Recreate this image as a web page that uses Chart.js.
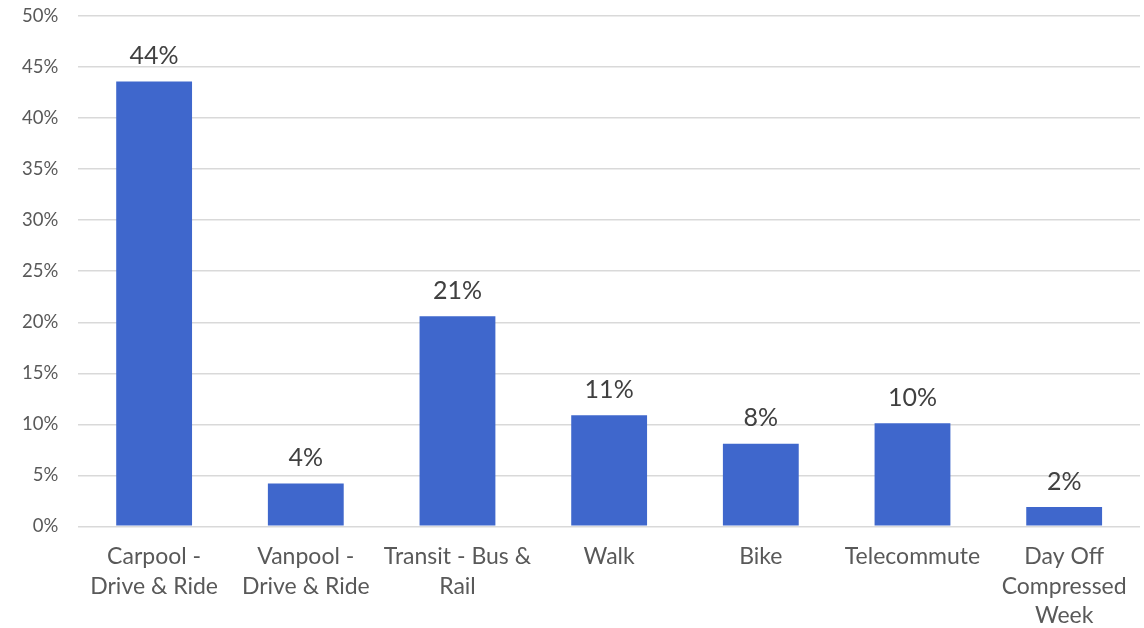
<!DOCTYPE html>
<html>
<head>
<meta charset="utf-8">
<script src="https://cdn.jsdelivr.net/npm/chart.js@4"></script>
<style>
  html, body { margin: 0; padding: 0; background: #fff; overflow: hidden; }
  #wrap { width: 1144px; height: 643px; margin-top: -15px; }
</style>
</head>
<body>
<div id="wrap"><canvas id="chart"></canvas></div>
<script>
const categories = [
    ['Carpool -', 'Drive & Ride'],
    ['Vanpool -', 'Drive & Ride'],
    ['Transit - Bus &', 'Rail'],
    'Walk',
    'Bike',
    'Telecommute',
    ['Day Off', 'Compressed', 'Week']
];
const shares = [43.6, 4.2, 20.6, 10.9, 8.1, 10.1, 1.9];
const shareLabels = ['44%', '4%', '21%', '11%', '8%', '10%', '2%'];

const FONT = "Lato, 'Open Sans', sans-serif";

// value labels on top of each bar
const topLabels = {
    id: 'topLabels',
    afterDatasetsDraw(chart) {
        const ctx = chart.ctx;
        const meta = chart.getDatasetMeta(0);
        ctx.save();
        ctx.font = '25px ' + FONT;
        ctx.fillStyle = '#404040';
        ctx.textAlign = 'center';
        ctx.textBaseline = 'bottom';
        meta.data.forEach((bar, i) => {
            ctx.fillText(shareLabels[i], bar.x, bar.y - 13);
        });
        ctx.restore();
    }
};

const ctx = document.getElementById('chart').getContext('2d');

new Chart(ctx, {
    type: 'bar',
    data: {
        labels: categories,
        datasets: [{
            data: shares,
            backgroundColor: (c) => {
                const bar = c.element;
                if (!bar || bar.width === undefined) return '#3f67cc';
                const g = c.chart.ctx.createLinearGradient(bar.x - bar.width / 2, 0, bar.x + bar.width / 2, 0);
                g.addColorStop(0, '#3860c6');
                g.addColorStop(0.5, '#4a70d2');
                g.addColorStop(1, '#3860c6');
                return g;
            },
            barPercentage: 0.5,
            categoryPercentage: 1.0
        }]
    },
    options: {
        responsive: true,
        maintainAspectRatio: false,
        animation: false,
        layout: { padding: { top: 0, right: 4, left: 2, bottom: -18 } },
        plugins: {
            legend: { display: false },
            tooltip: { enabled: false }
        },
        scales: {
            y: {
                min: 0,
                max: 50,
                ticks: {
                    stepSize: 5,
                    padding: 20,
                    color: '#595959',
                    font: { family: FONT, size: 18.5 },
                    callback: v => v + '%'
                },
                grid: { color: '#d9d9d9', lineWidth: 1.5, drawTicks: false },
                border: { display: false }
            },
            x: {
                ticks: {
                    color: '#595959',
                    font: { family: FONT, size: 23, lineHeight: 1.27 },
                    padding: 16,
                    maxRotation: 0,
                    autoSkip: false
                },
                grid: { display: false, drawTicks: false },
                border: { display: false }
            }
        }
    },
    plugins: [topLabels]
});
</script>
</body>
</html>
